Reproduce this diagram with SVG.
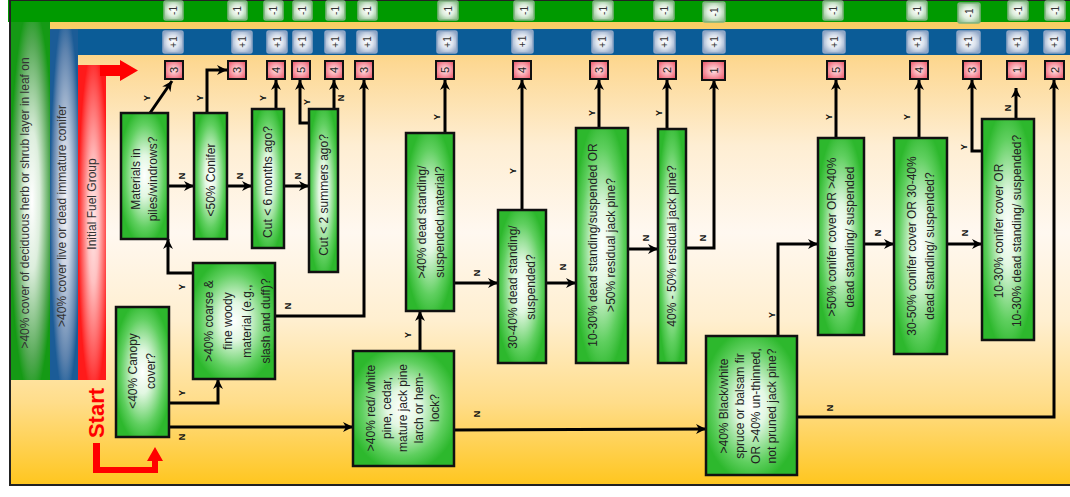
<svg xmlns="http://www.w3.org/2000/svg" width="1070" height="497" viewBox="0 0 1070 497">
<style>
.node{stroke:#111;stroke-width:2.5;fill:url(#gNode)}
.nt{font-family:"Liberation Sans",Arial,sans-serif;font-size:12px;fill:#222;text-anchor:middle}
.yn{font-family:"Liberation Sans",Arial,sans-serif;font-size:9px;font-weight:bold;fill:#111;text-anchor:middle}
.num{stroke:#111;stroke-width:2;fill:url(#gPink)}
.numt{font-family:"Liberation Sans",Arial,sans-serif;font-size:11px;fill:#222;text-anchor:middle}
.mb{stroke:#7fb37f;stroke-width:1.5;fill:url(#gMinus)}
.pb{stroke:#90a6c6;stroke-width:1.5;fill:url(#gPlus)}
.st{font-family:"Liberation Sans",Arial,sans-serif;font-size:10px;fill:#333;text-anchor:middle}
.bt{font-family:"Liberation Sans",Arial,sans-serif;font-size:12px;fill:#333;text-anchor:middle}
.c{fill:none;stroke:#000;stroke-width:3;marker-end:url(#ah)}
</style>
<defs>
<linearGradient id="gBg" x1="0" y1="0" x2="0" y2="485" gradientUnits="userSpaceOnUse">
<stop offset="0" stop-color="#F7C646"/>
<stop offset="0.13" stop-color="#FDD893"/>
<stop offset="0.3" stop-color="#FEEED3"/>
<stop offset="0.48" stop-color="#FFF8F0"/>
<stop offset="0.66" stop-color="#FFEFD0"/>
<stop offset="0.83" stop-color="#FFDD8A"/>
<stop offset="1" stop-color="#FFC61E"/>
</linearGradient>
<radialGradient id="gNode" cx="0.5" cy="0.5" r="0.55">
<stop offset="0" stop-color="#FFFFFF"/>
<stop offset="0.3" stop-color="#E2F7E2"/>
<stop offset="0.75" stop-color="#5FCF5F"/>
<stop offset="1" stop-color="#2DB82D"/>
</radialGradient>
<radialGradient id="gPink" cx="0.5" cy="0.5" r="0.6">
<stop offset="0" stop-color="#FFE6E8"/>
<stop offset="0.5" stop-color="#F8A4AE"/>
<stop offset="1" stop-color="#EE5E70"/>
</radialGradient>
<radialGradient id="gMinus" cx="0.5" cy="0.5" r="0.6">
<stop offset="0" stop-color="#FFFFFF"/>
<stop offset="0.5" stop-color="#DDEDDD"/>
<stop offset="1" stop-color="#8DBF8D"/>
</radialGradient>
<radialGradient id="gPlus" cx="0.5" cy="0.5" r="0.6">
<stop offset="0" stop-color="#FFFFFF"/>
<stop offset="0.5" stop-color="#DCE3EE"/>
<stop offset="1" stop-color="#8FA6C6"/>
</radialGradient>
<radialGradient id="gGreenBar" cx="0.55" cy="0.5" r="0.55">
<stop offset="0" stop-color="#FFFFFF"/>
<stop offset="0.35" stop-color="#DDEEDD"/>
<stop offset="0.8" stop-color="#55A955"/>
<stop offset="1" stop-color="#159A15"/>
</radialGradient>
<radialGradient id="gBlueBar" cx="0.55" cy="0.5" r="0.55">
<stop offset="0" stop-color="#F2F2F5"/>
<stop offset="0.35" stop-color="#CBD3E2"/>
<stop offset="0.8" stop-color="#5E83AE"/>
<stop offset="1" stop-color="#1B5C97"/>
</radialGradient>
<radialGradient id="gRedBar" cx="0.55" cy="0.5" r="0.55">
<stop offset="0" stop-color="#FFE8E8"/>
<stop offset="0.35" stop-color="#FFC2C2"/>
<stop offset="0.8" stop-color="#FF5050"/>
<stop offset="1" stop-color="#FF1A1A"/>
</radialGradient>
<marker id="ah" markerUnits="userSpaceOnUse" markerWidth="11" markerHeight="11" refX="10" refY="5" orient="auto">
<path d="M0,0 L10,5 L0,10 L3,5 Z" fill="#000"/>
</marker>
</defs>

<g id="background">
<rect x="10" y="0" width="1062" height="485" fill="url(#gBg)"/>
<rect x="8" y="0" width="1064" height="22" fill="#009A00"/>
<rect x="50" y="29" width="1022" height="26" fill="#0B5C97"/>
<rect x="10" y="22" width="40" height="358" fill="url(#gGreenBar)"/>
<rect x="50" y="29" width="28" height="351" fill="url(#gBlueBar)"/>
<rect x="78" y="65" width="28" height="315" fill="url(#gRedBar)"/>
<rect x="10" y="0" width="1062" height="485" fill="none" stroke="#222" stroke-width="2"/>
<text class="bt" transform="translate(25,203) rotate(-90)" dy="4">&gt;40% cover of deciduous herb or shrub layer in leaf on</text>
<text class="bt" transform="translate(62,216) rotate(-90)" dy="4">&gt;40% cover live or dead immature conifer</text>
<text class="bt" transform="translate(92,204) rotate(-90)" dy="4">Initial Fuel Group</text>
</g>

<g id="start">
<path d="M100,65 L120,65 L120,60 L138,70.5 L120,81 L120,76 L100,76 Z" fill="#FF0000"/>
<path d="M93,443 L100,443 L100,467 L152,467 L152,461 L147,461 L155,447 L163,461 L158,461 L158,473 L93,473 Z" fill="#FF0000"/>
<text transform="translate(96,413) rotate(-90)" dy="8" text-anchor="middle" font-family="Liberation Sans, Arial, sans-serif" font-size="22" font-weight="bold" fill="#FF0000">Start</text>
</g>

<g id="minus-boxes">
<rect class="mb" x="164" y="1" width="19" height="19" rx="2"/><text class="st" transform="translate(173.5,10.5) rotate(-90)" dy="3.5">-1</text>
<rect class="mb" x="228" y="1" width="19" height="19" rx="2"/><text class="st" transform="translate(237.5,10.5) rotate(-90)" dy="3.5">-1</text>
<rect class="mb" x="264" y="1" width="19" height="19" rx="2"/><text class="st" transform="translate(273.5,10.5) rotate(-90)" dy="3.5">-1</text>
<rect class="mb" x="293" y="1" width="19" height="19" rx="2"/><text class="st" transform="translate(302.5,10.5) rotate(-90)" dy="3.5">-1</text>
<rect class="mb" x="326" y="1" width="19" height="19" rx="2"/><text class="st" transform="translate(335.5,10.5) rotate(-90)" dy="3.5">-1</text>
<rect class="mb" x="358" y="1" width="19" height="19" rx="2"/><text class="st" transform="translate(367.5,10.5) rotate(-90)" dy="3.5">-1</text>
<rect class="mb" x="438" y="1" width="20" height="19" rx="2"/><text class="st" transform="translate(448,10.5) rotate(-90)" dy="3.5">-1</text>
<rect class="mb" x="514" y="1" width="20" height="19" rx="2"/><text class="st" transform="translate(524,10.5) rotate(-90)" dy="3.5">-1</text>
<rect class="mb" x="593" y="1" width="20" height="19" rx="2"/><text class="st" transform="translate(603,10.5) rotate(-90)" dy="3.5">-1</text>
<rect class="mb" x="654" y="1" width="20" height="19" rx="2"/><text class="st" transform="translate(664,10.5) rotate(-90)" dy="3.5">-1</text>
<rect class="mb" x="703" y="2" width="22" height="20" rx="2"/><text class="st" transform="translate(714,12) rotate(-90)" dy="3.5">-1</text>
<rect class="mb" x="823" y="1" width="20" height="19" rx="2"/><text class="st" transform="translate(833,10.5) rotate(-90)" dy="3.5">-1</text>
<rect class="mb" x="907" y="1" width="20" height="19" rx="2"/><text class="st" transform="translate(917,10.5) rotate(-90)" dy="3.5">-1</text>
<rect class="mb" x="958" y="3" width="22" height="20" rx="2"/><text class="st" transform="translate(969,13) rotate(-90)" dy="3.5">-1</text>
<rect class="mb" x="1008" y="1" width="20" height="19" rx="2"/><text class="st" transform="translate(1018,10.5) rotate(-90)" dy="3.5">-1</text>
<rect class="mb" x="1045" y="1" width="20" height="19" rx="2"/><text class="st" transform="translate(1055,10.5) rotate(-90)" dy="3.5">-1</text>
</g>

<g id="plus-boxes">
<rect class="pb" x="163" y="31" width="20" height="22" rx="2"/><text class="st" transform="translate(173,42) rotate(-90)" dy="3.5">+1</text>
<rect class="pb" x="232" y="31" width="20" height="22" rx="2"/><text class="st" transform="translate(242,42) rotate(-90)" dy="3.5">+1</text>
<rect class="pb" x="267" y="31" width="20" height="22" rx="2"/><text class="st" transform="translate(277,42) rotate(-90)" dy="3.5">+1</text>
<rect class="pb" x="293" y="31" width="19" height="22" rx="2"/><text class="st" transform="translate(302.5,42) rotate(-90)" dy="3.5">+1</text>
<rect class="pb" x="325" y="31" width="20" height="22" rx="2"/><text class="st" transform="translate(335,42) rotate(-90)" dy="3.5">+1</text>
<rect class="pb" x="357" y="31" width="20" height="22" rx="2"/><text class="st" transform="translate(367,42) rotate(-90)" dy="3.5">+1</text>
<rect class="pb" x="437" y="31" width="20" height="22" rx="2"/><text class="st" transform="translate(447,42) rotate(-90)" dy="3.5">+1</text>
<rect class="pb" x="512" y="30" width="21" height="23" rx="2"/><text class="st" transform="translate(522.5,41.5) rotate(-90)" dy="3.5">+1</text>
<rect class="pb" x="592" y="31" width="21" height="22" rx="2"/><text class="st" transform="translate(602.5,42) rotate(-90)" dy="3.5">+1</text>
<rect class="pb" x="654" y="31" width="21" height="22" rx="2"/><text class="st" transform="translate(664.5,42) rotate(-90)" dy="3.5">+1</text>
<rect class="pb" x="703" y="31" width="22" height="22" rx="2"/><text class="st" transform="translate(714,42) rotate(-90)" dy="3.5">+1</text>
<rect class="pb" x="823" y="31" width="22" height="22" rx="2"/><text class="st" transform="translate(834,42) rotate(-90)" dy="3.5">+1</text>
<rect class="pb" x="907" y="31" width="21" height="22" rx="2"/><text class="st" transform="translate(917.5,42) rotate(-90)" dy="3.5">+1</text>
<rect class="pb" x="957" y="31" width="23" height="22" rx="2"/><text class="st" transform="translate(968.5,42) rotate(-90)" dy="3.5">+1</text>
<rect class="pb" x="1007" y="31" width="21" height="22" rx="2"/><text class="st" transform="translate(1017.5,42) rotate(-90)" dy="3.5">+1</text>
<rect class="pb" x="1044" y="31" width="21" height="22" rx="2"/><text class="st" transform="translate(1054.5,42) rotate(-90)" dy="3.5">+1</text>
</g>

<g id="connectors">
<path class="c" d="M150,113 L172,81"/>
<path class="c" d="M168,186 L194,186"/>
<path class="c" d="M207,113 L207,70 L227,70"/>
<path class="c" d="M227,186 L252,186"/>
<path class="c" d="M276,109 L276,80"/>
<path class="c" d="M284,186 L309,186"/>
<path class="c" d="M309,123 L300,123 L300,80"/>
<path class="c" d="M334,109 L334,80"/>
<path class="c" d="M193,273 L168,273 L168,239"/>
<path class="c" d="M275,316 L364,316 L364,80"/>
<path class="c" d="M169,403 L218,403 L218,379"/>
<path class="c" d="M169,427 L353,427"/>
<path class="c" d="M420,351 L420,311"/>
<path class="c" d="M454,430 L706,429"/>
<path class="c" d="M445,133 L445,80"/>
<path class="c" d="M454,283 L498,283"/>
<path class="c" d="M522,210 L522,80"/>
<path class="c" d="M546,283 L576,283"/>
<path class="c" d="M599,128 L599,80"/>
<path class="c" d="M628,249 L658,249"/>
<path class="c" d="M667,129 L667,80"/>
<path class="c" d="M686,248 L714,248 L714,80"/>
<path class="c" d="M778,336 L778,244 L818,244"/>
<path class="c" d="M797,417 L1054,417 L1054,80"/>
<path class="c" d="M836,138 L836,80"/>
<path class="c" d="M864,244 L894,244"/>
<path class="c" d="M919,138 L919,80"/>
<path class="c" d="M947,244 L982,244"/>
<path class="c" d="M982,151 L972,151 L972,80"/>
<path class="c" d="M1016,119 L1016,88"/>
<g id="labels">
<text class="yn" transform="translate(147,98) rotate(-90)" dy="3">Y</text>
<text class="yn" transform="translate(182,176) rotate(-90)" dy="3">N</text>
<text class="yn" transform="translate(200,98) rotate(-90)" dy="3">Y</text>
<text class="yn" transform="translate(240,176) rotate(-90)" dy="3">N</text>
<text class="yn" transform="translate(263,98) rotate(-90)" dy="3">Y</text>
<text class="yn" transform="translate(298,176) rotate(-90)" dy="3">N</text>
<text class="yn" transform="translate(307,102) rotate(-90)" dy="3">Y</text>
<text class="yn" transform="translate(341,98) rotate(-90)" dy="3">N</text>
<text class="yn" transform="translate(182,287) rotate(-90)" dy="3">Y</text>
<text class="yn" transform="translate(288,306) rotate(-90)" dy="3">N</text>
<text class="yn" transform="translate(182,393) rotate(-90)" dy="3">Y</text>
<text class="yn" transform="translate(182,437) rotate(-90)" dy="3">N</text>
<text class="yn" transform="translate(408,335) rotate(-90)" dy="3">Y</text>
<text class="yn" transform="translate(477,414) rotate(-90)" dy="3">N</text>
<text class="yn" transform="translate(437,117) rotate(-90)" dy="3">Y</text>
<text class="yn" transform="translate(477,273) rotate(-90)" dy="3">N</text>
<text class="yn" transform="translate(513,171) rotate(-90)" dy="3">Y</text>
<text class="yn" transform="translate(563,267) rotate(-90)" dy="3">N</text>
<text class="yn" transform="translate(592,113) rotate(-90)" dy="3">Y</text>
<text class="yn" transform="translate(646,238) rotate(-90)" dy="3">N</text>
<text class="yn" transform="translate(659,113) rotate(-90)" dy="3">Y</text>
<text class="yn" transform="translate(703,238) rotate(-90)" dy="3">N</text>
<text class="yn" transform="translate(772,315) rotate(-90)" dy="3">Y</text>
<text class="yn" transform="translate(830,408) rotate(-90)" dy="3">N</text>
<text class="yn" transform="translate(829,117) rotate(-90)" dy="3">Y</text>
<text class="yn" transform="translate(878,233) rotate(-90)" dy="3">N</text>
<text class="yn" transform="translate(907,117) rotate(-90)" dy="3">Y</text>
<text class="yn" transform="translate(965,233) rotate(-90)" dy="3">N</text>
<text class="yn" transform="translate(964,147) rotate(-90)" dy="3">Y</text>
<text class="yn" transform="translate(1008,108) rotate(-90)" dy="3">N</text>
</g>
</g>

<g id="outcomes">
<rect class="num" x="165" y="61" width="18" height="18"/><text class="numt" transform="translate(174,70) rotate(-90)" dy="4">3</text>
<rect class="num" x="228" y="61" width="18" height="18"/><text class="numt" transform="translate(237,70) rotate(-90)" dy="4">3</text>
<rect class="num" x="267" y="61" width="18" height="18"/><text class="numt" transform="translate(276,70) rotate(-90)" dy="4">4</text>
<rect class="num" x="292" y="61" width="18" height="18"/><text class="numt" transform="translate(301,70) rotate(-90)" dy="4">5</text>
<rect class="num" x="325" y="61" width="18" height="18"/><text class="numt" transform="translate(334,70) rotate(-90)" dy="4">4</text>
<rect class="num" x="355" y="61" width="18" height="18"/><text class="numt" transform="translate(364,70) rotate(-90)" dy="4">3</text>
<rect class="num" x="436" y="61" width="18" height="18"/><text class="numt" transform="translate(445,70) rotate(-90)" dy="4">5</text>
<rect class="num" x="513" y="61" width="18" height="18"/><text class="numt" transform="translate(522,70) rotate(-90)" dy="4">4</text>
<rect class="num" x="590" y="61" width="18" height="18"/><text class="numt" transform="translate(599,70) rotate(-90)" dy="4">3</text>
<rect class="num" x="658" y="61" width="18" height="18"/><text class="numt" transform="translate(667,70) rotate(-90)" dy="4">2</text>
<rect class="num" x="702" y="61" width="23" height="19"/><text class="numt" transform="translate(713.5,70.5) rotate(-90)" dy="4">1</text>
<rect class="num" x="827" y="61" width="18" height="18"/><text class="numt" transform="translate(836,70) rotate(-90)" dy="4">5</text>
<rect class="num" x="910" y="61" width="18" height="18"/><text class="numt" transform="translate(919,70) rotate(-90)" dy="4">4</text>
<rect class="num" x="963" y="61" width="18" height="18"/><text class="numt" transform="translate(972,70) rotate(-90)" dy="4">3</text>
<rect class="num" x="1007" y="61" width="19" height="18"/><text class="numt" transform="translate(1016.5,70) rotate(-90)" dy="4">1</text>
<rect class="num" x="1045" y="61" width="19" height="18"/><text class="numt" transform="translate(1054.5,70) rotate(-90)" dy="4">2</text>
</g>

<g id="n1"><rect class="node" x="121" y="113" width="47" height="126"/>
<text class="nt" transform="translate(144.5,179) rotate(-90)"><tspan x="0" dy="-4.3">Materials  in</tspan><tspan x="0" dy="17">piles/windrows?</tspan></text></g>
<g id="n2"><rect class="node" x="194" y="113" width="33" height="126"/>
<text class="nt" transform="translate(210.5,180) rotate(-90)" dy="4.2">&lt;50% Conifer</text></g>
<g id="n3"><rect class="node" x="252" y="109" width="32" height="139"/>
<text class="nt" transform="translate(268,182) rotate(-90)" dy="4.2">Cut &lt; 6 months ago?</text></g>
<g id="n4"><rect class="node" x="309" y="109" width="29" height="163"/>
<text class="nt" transform="translate(323.5,195) rotate(-90)" dy="4.2">Cut &lt; 2 summers ago?</text></g>
<g id="n5"><rect class="node" x="193" y="263" width="82" height="116"/>
<text class="nt" transform="translate(237,321) rotate(-90)"><tspan x="0" dy="-24.3">&gt;40% coarse &amp;</tspan><tspan x="0" dy="19">fine woody</tspan><tspan x="0" dy="19">material (e.g.,</tspan><tspan x="0" dy="19">slash and duff)?</tspan></text></g>
<g id="n6"><rect class="node" x="116" y="307" width="53" height="130"/>
<text class="nt" transform="translate(142,371) rotate(-90)"><tspan x="0" dy="-4.8">&lt;40% Canopy</tspan><tspan x="0" dy="18">cover?</tspan></text></g>
<g id="n7"><rect class="node" x="353" y="351" width="101" height="115"/>
<text class="nt" transform="translate(403,408) rotate(-90)"><tspan x="0" dy="-27.8">&gt;40% red/ white</tspan><tspan x="0" dy="16">pine, cedar,</tspan><tspan x="0" dy="16">mature jack pine</tspan><tspan x="0" dy="16">larch or hem-</tspan><tspan x="0" dy="16">lock?</tspan></text></g>
<g id="n8"><rect class="node" x="406" y="133" width="48" height="178"/>
<text class="nt" transform="translate(431,222) rotate(-90)"><tspan x="0" dy="-4.8">&gt;40% dead standing/</tspan><tspan x="0" dy="18">suspended material?</tspan></text></g>
<g id="n9"><rect class="node" x="498" y="210" width="48" height="153"/>
<text class="nt" transform="translate(522,287) rotate(-90)"><tspan x="0" dy="-4.8">30-40% dead standing/</tspan><tspan x="0" dy="18">suspended?</tspan></text></g>
<g id="n10"><rect class="node" x="576" y="128" width="52" height="235"/>
<text class="nt" transform="translate(602,245) rotate(-90)"><tspan x="0" dy="-4.8">10-30% dead standing/suspended OR</tspan><tspan x="0" dy="18">&gt;50% residual jack pine?</tspan></text></g>
<g id="n11"><rect class="node" x="658" y="129" width="28" height="234"/>
<text class="nt" transform="translate(672,246) rotate(-90)" dy="4.2">40% - 50% residual jack pine?</text></g>
<g id="n12"><rect class="node" x="706" y="336" width="91" height="139"/>
<text class="nt" transform="translate(748,406) rotate(-90)"><tspan x="0" dy="-20.3">&gt;40% Black/white</tspan><tspan x="0" dy="16">spruce or balsam fir</tspan><tspan x="0" dy="16">OR &gt;40% un-thinned,</tspan><tspan x="0" dy="16">not pruned jack pine?</tspan></text></g>
<g id="n13"><rect class="node" x="818" y="138" width="46" height="197"/>
<text class="nt" transform="translate(841,237) rotate(-90)"><tspan x="0" dy="-4.8">&gt;50% conifer cover OR &gt;40%</tspan><tspan x="0" dy="18">dead standing/ suspended</tspan></text></g>
<g id="n14"><rect class="node" x="894" y="138" width="53" height="216"/>
<text class="nt" transform="translate(920.5,246) rotate(-90)"><tspan x="0" dy="-4.8">30-50% conifer cover OR 30-40%</tspan><tspan x="0" dy="18">dead standing/ suspended?</tspan></text></g>
<g id="n15"><rect class="node" x="982" y="119" width="52" height="221"/>
<text class="nt" transform="translate(1008,231) rotate(-90)"><tspan x="0" dy="-4.8">10-30% conifer cover OR</tspan><tspan x="0" dy="18">10-30% dead standing/ suspended?</tspan></text></g>
</svg>
